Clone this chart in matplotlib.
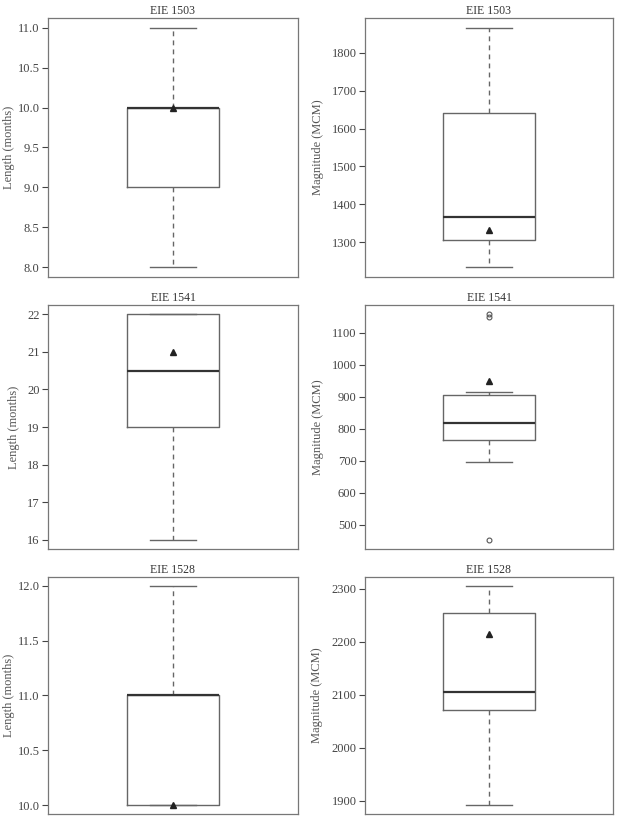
import matplotlib
matplotlib.use("Agg")
import matplotlib.pyplot as plt
import numpy as np

# panel titles and axis labels
titles = ["EIE 1503", "EIE 1503", "EIE 1541", "EIE 1541", "EIE 1528", "EIE 1528"]
ylabels = ["Length (months)", "Magnitude (MCM)"] * 3

# box statistics (length left, magnitude right)
whislo = [8.0, 1233, 16.0, 697, 10.0, 1892]
q1 = [9.0, 1306, 19.0, 763, 10.0, 2072]
med = [10.0, 1366, 20.5, 819, 11.0, 2106]
q3 = [10.0, 1642, 22.0, 904, 11.0, 2255]
whishi = [11.0, 1867, 22.0, 913, 12.0, 2306]
means = [10.0, 1333, 21.0, 948, 10.0, 2215]
fliers = [[], [], [], [452, 1149, 1158], [], []]

yticks = [
    np.arange(8.0, 11.01, 0.5),
    np.arange(1300, 1801, 100),
    np.arange(16, 23, 1),
    np.arange(500, 1101, 100),
    np.arange(10.0, 12.01, 0.5),
    np.arange(1900, 2301, 100),
]
tick_fmt = ["%.1f", "%d", "%d", "%d", "%.1f", "%d"]

plt.rcParams["font.family"] = ["Liberation Serif", "DejaVu Serif"]

W, H = 618, 822
fig = plt.figure(figsize=(W / 100, H / 100), dpi=100)

# axes boxes in pixels: (left, top, right, bottom)
col_x = [(48, 298), (365, 613)]
row_y = [(18, 277), (305, 549), (577, 814)]
# y-label centre, pixels from figure left
label_x = [9, 318, 14, 318, 9, 317]

gray = "#666666"

for i in range(6):
    r, c = divmod(i, 2)
    x0, x1 = col_x[c]
    y0, y1 = row_y[r]
    ax = fig.add_axes([x0 / W, 1 - y1 / H, (x1 - x0) / W, (y1 - y0) / H])

    stats = [dict(med=med[i], q1=q1[i], q3=q3[i], whislo=whislo[i],
                  whishi=whishi[i], mean=means[i], fliers=fliers[i])]
    ax.bxp(stats, positions=[1], widths=0.368, showmeans=True,
           boxprops=dict(color=gray, linewidth=1.0),
           medianprops=dict(color="#333333", linewidth=1.6),
           whiskerprops=dict(color=gray, linewidth=1.0, linestyle=(0, (3.5, 3))),
           capprops=dict(color=gray, linewidth=1.0),
           capwidths=0.184,
           meanprops=dict(marker="^", markerfacecolor="#222222",
                          markeredgecolor="#222222", markersize=4.5),
           flierprops=dict(marker="o", markerfacecolor="none",
                           markeredgecolor="#555555", markersize=3.5,
                           markeredgewidth=0.8))

    lo = min([whislo[i]] + fliers[i])
    hi = max([whishi[i]] + fliers[i])
    pad = (hi - lo) * 0.04
    ax.set_ylim(lo - pad, hi + pad)
    ax.set_xlim(0.5, 1.5)
    ax.set_xticks([])
    ax.set_yticks(yticks[i])
    ax.set_yticklabels([tick_fmt[i] % v for v in yticks[i]])
    ax.tick_params(axis="y", labelsize=9, colors="#444444", length=4,
                   width=0.8, pad=2)
    for s in ax.spines.values():
        s.set_color("#777777")
        s.set_linewidth(0.9)
    ax.set_title(titles[i], fontsize=8.5, color="#333333", pad=3)
    ax.set_ylabel(ylabels[i], fontsize=9, color="#555555", va="center")
    ax.yaxis.set_label_coords((label_x[i] - x0) / (x1 - x0), 0.5)

fig.savefig("out.png", dpi=100)
